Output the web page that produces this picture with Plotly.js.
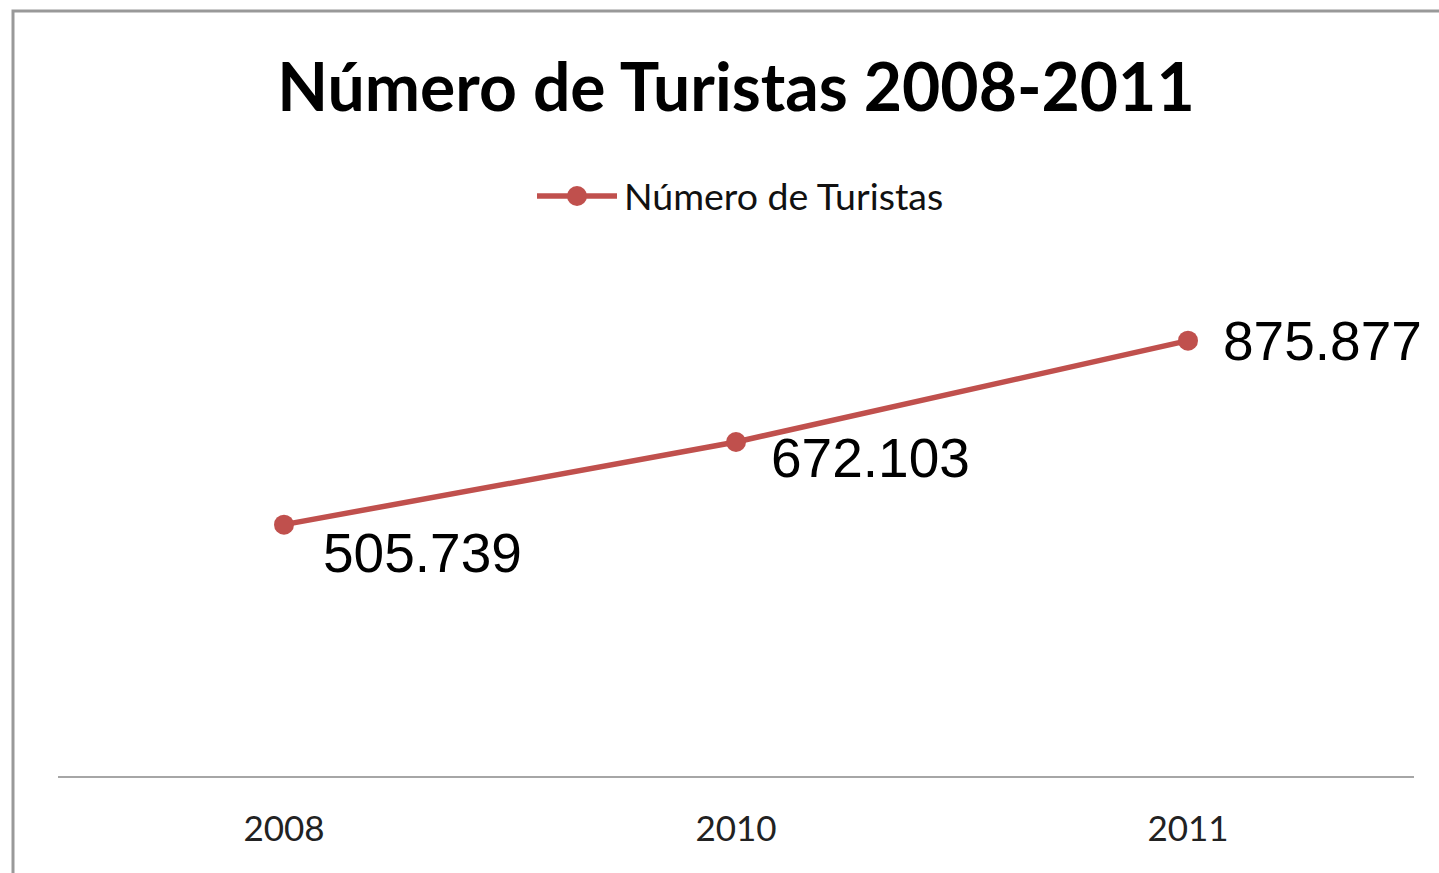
<!DOCTYPE html>
<html>
<head>
<meta charset="utf-8">
<script src="https://cdn.plot.ly/plotly-3.0.1.min.js"></script>
<style>html,body{margin:0;padding:0;background:#fff;overflow:hidden}#chart{width:1439px;height:873px}</style>
</head>
<body>
<div id="chart"></div>
<script>
const years = ["2008", "2010", "2011"];
const tourists = [505.739, 672.103, 875.877];
const labels = ["505.739", "672.103", "875.877"];
const seriesName = "Número de Turistas";
const chartTitle = "Número de Turistas 2008-2011";

const W = 1439, H = 873;
const M = {l: 58, r: 25, t: 279, b: 97};
const pw = W - M.l - M.r, ph = H - M.t - M.b;
const px = p => (p - M.l) / pw;
const py = p => (H - M.b - p) / ph;
const red = "#C0504D";

const labelShift = [[37, -28], [33, -16], [33, 0]];

const trace = {
  x: years, y: tourists, type: "scatter", mode: "lines+markers",
  name: seriesName, showlegend: false,
  line: {color: red, width: 5.5},
  marker: {color: red, size: 20},
  hoverinfo: "skip"
};

const annotations = years.map((yr, i) => ({
  x: i, y: tourists[i], xref: "x", yref: "y",
  text: labels[i], showarrow: false,
  xanchor: "left", yanchor: "middle",
  xshift: labelShift[i][0], yshift: labelShift[i][1],
  font: {family: "Liberation Sans, Arial, sans-serif", size: 55, color: "#000"}
}));
annotations.push({
  x: px(622), y: py(196), xref: "paper", yref: "paper",
  text: seriesName, showarrow: false, xanchor: "left", yanchor: "middle",
  font: {family: "Lato, sans-serif", size: 37.5, color: "#111"}
});

const layout = {
  width: W, height: H,
  margin: M,
  paper_bgcolor: "#fff", plot_bgcolor: "#fff",
  title: {
    text: "<b>" + chartTitle + "</b>",
    xref: "paper", x: 0.5, xanchor: "center",
    yref: "container", y: 1 - 88 / H, yanchor: "middle",
    font: {family: "Lato, sans-serif", size: 66, color: "#000"}
  },
  xaxis: {
    type: "category", range: [-0.5, 2.5], showgrid: false, zeroline: false,
    showline: true, linecolor: "#a6a6a6", linewidth: 2,
    ticks: "", tickfont: {family: "Lato, sans-serif", size: 35, color: "#222"},
    ticklabelstandoff: 21, fixedrange: true
  },
  yaxis: {
    range: [0, 1000], visible: false, showgrid: false, zeroline: false, fixedrange: true
  },
  shapes: [
    {type: "rect", xref: "paper", yref: "paper",
     x0: px(13), x1: px(1460), y0: py(900), y1: py(11),
     line: {color: "#999", width: 3}, fillcolor: "rgba(0,0,0,0)"},
    {type: "line", xref: "paper", yref: "paper",
     x0: px(537), x1: px(617), y0: py(196), y1: py(196),
     line: {color: red, width: 5.5}},
    {type: "circle", xref: "paper", yref: "paper",
     x0: px(567), x1: px(587), y0: py(206), y1: py(186),
     line: {color: red, width: 0}, fillcolor: red}
  ],
  annotations: annotations
};

Plotly.newPlot("chart", [trace], layout, {displayModeBar: false, staticPlot: true});
</script>
</body>
</html>
